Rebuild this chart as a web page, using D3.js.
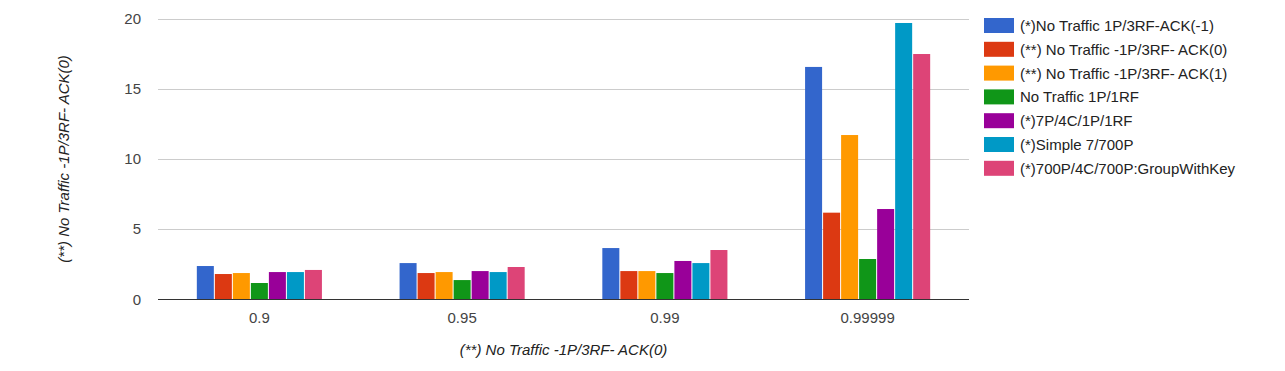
<!DOCTYPE html>
<html lang="en">
<head>
    <meta charset="UTF-8">
    <title>No Traffic chart</title>
    <script src="https://d3js.org/d3.v7.min.js"></script>
    <style>
        body { margin: 0; background: #fff; font-family: Arial, "Liberation Sans", sans-serif; }
        .tick text { fill: #444; font-size: 15px; font-family: Arial, "Liberation Sans", sans-serif; }
        .title { fill: #222; font-size: 15px; font-style: italic; }
        .legend text { fill: #222; font-size: 15px; }
    </style>
</head>
<body>
    <svg width="1285" height="371"></svg>
    <script>
        var categories = ["0.9", "0.95", "0.99", "0.99999"];

        var seriesNames = [
            "(*)No Traffic 1P/3RF-ACK(-1)",
            "(**) No Traffic -1P/3RF- ACK(0)",
            "(**) No Traffic -1P/3RF- ACK(1)",
            "No Traffic 1P/1RF",
            "(*)7P/4C/1P/1RF",
            "(*)Simple 7/700P",
            "(*)700P/4C/700P:GroupWithKey"
        ];

        // one array per series, values for 0.9, 0.95, 0.99, 0.99999
        var ack_m1 = [2.37, 2.58, 3.65, 16.55];
        var ack_0 = [1.80, 1.87, 2.01, 6.17];
        var ack_1 = [1.87, 1.94, 2.01, 11.70];
        var noTraffic1P1RF = [1.16, 1.37, 1.87, 2.87];
        var p7c4 = [1.94, 2.01, 2.73, 6.43];
        var simple7 = [1.94, 1.94, 2.58, 19.68];
        var groupWithKey = [2.09, 2.30, 3.51, 17.47];

        var seriesValues = [ack_m1, ack_0, ack_1, noTraffic1P1RF, p7c4, simple7, groupWithKey];

        var colors = ["#3366cc", "#dc3912", "#ff9900", "#109618", "#990099", "#0099c6", "#dd4477"];
        var yTicks = [0, 5, 10, 15, 20];

        var svg = d3.select("svg");
        var plotLeft = 158, plotRight = 969, plotTop = 18.5, plotBottom = 299.3;

        var x = d3.scaleBand()
            .domain(categories)
            .range([plotLeft, plotRight])
            .paddingInner(0.383)
            .paddingOuter(0.1915);

        var xInner = d3.scaleBand()
            .domain(d3.range(seriesNames.length))
            .range([0, x.bandwidth()])
            .paddingInner(1 / 18);

        var y = d3.scaleLinear()
            .domain([0, 20])
            .range([plotBottom, plotTop]);

        // gridlines
        svg.append("g")
            .selectAll("line")
            .data(yTicks.filter(function(d) { return d > 0; }))
            .enter().append("line")
            .attr("x1", plotLeft)
            .attr("x2", plotRight)
            .attr("y1", function(d) { return Math.round(y(d)) + 0.5; })
            .attr("y2", function(d) { return Math.round(y(d)) + 0.5; })
            .attr("stroke", "#cccccc");

        // bars
        var groups = svg.append("g")
            .selectAll("g")
            .data(categories)
            .enter().append("g")
            .attr("transform", function(d) { return "translate(" + x(d) + ",0)"; });

        groups.selectAll("rect")
            .data(function(d, i) {
                return seriesValues.map(function(vals, s) { return { s: s, v: vals[i] }; });
            })
            .enter().append("rect")
            .attr("x", function(d) { return xInner(d.s); })
            .attr("width", xInner.bandwidth())
            .attr("y", function(d) { return y(d.v); })
            .attr("height", function(d) { return y(0) - y(d.v); })
            .attr("fill", function(d) { return colors[d.s]; });

        // baseline
        svg.append("line")
            .attr("x1", plotLeft)
            .attr("x2", plotRight)
            .attr("y1", Math.round(y(0)) + 0.5)
            .attr("y2", Math.round(y(0)) + 0.5)
            .attr("stroke", "#333333");

        // y axis labels
        var yAxis = svg.append("g")
            .attr("transform", "translate(" + plotLeft + ",0)")
            .call(d3.axisLeft(y).tickValues(yTicks).tickSize(0).tickPadding(17));
        yAxis.select(".domain").remove();

        // x axis labels
        var xAxis = svg.append("g")
            .attr("transform", "translate(0," + plotBottom + ")")
            .call(d3.axisBottom(x).tickSize(0).tickPadding(0));
        xAxis.select(".domain").remove();
        xAxis.selectAll(".tick text").attr("dy", null).attr("y", 23.5);

        // axis titles
        svg.append("text")
            .attr("class", "title")
            .attr("x", (plotLeft + plotRight) / 2)
            .attr("y", 355)
            .attr("text-anchor", "middle")
            .text("(**) No Traffic -1P/3RF- ACK(0)");

        svg.append("text")
            .attr("class", "title")
            .attr("transform", "translate(69," + ((plotTop + plotBottom) / 2) + ") rotate(-90)")
            .attr("text-anchor", "middle")
            .text("(**) No Traffic -1P/3RF- ACK(0)");

        // legend
        var legend = svg.append("g")
            .attr("class", "legend")
            .attr("transform", "translate(984,18)");

        var item = legend.selectAll("g")
            .data(seriesNames)
            .enter().append("g")
            .attr("transform", function(d, i) { return "translate(0," + (i * 23.8) + ")"; });

        item.append("rect")
            .attr("width", 30)
            .attr("height", 15)
            .attr("fill", function(d, i) { return colors[i]; });

        item.append("text")
            .attr("x", 36)
            .attr("y", 13)
            .text(function(d) { return d; });
    </script>
</body>
</html>
